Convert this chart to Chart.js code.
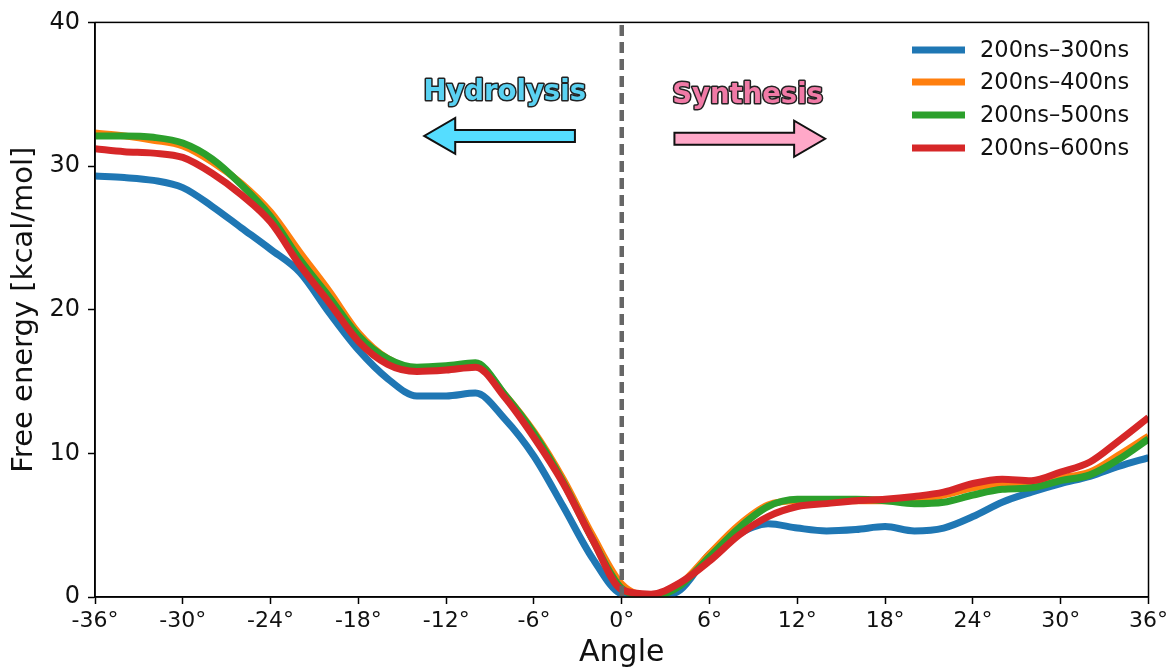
<!DOCTYPE html>
<html>
<head>
<meta charset="utf-8">
<script src="https://cdn.jsdelivr.net/npm/chart.js@4"></script>
<style>
  html, body { margin: 0; padding: 0; background: #fff; }
  #wrap { width: 1172px; height: 667px; }
</style>
</head>
<body>
<div id="wrap"><canvas id="energyChart"></canvas></div>
<script>
// Free energy profile along the rotation angle (degrees)
const angles = [-36, -34, -32, -30, -28, -26, -24, -22, -20, -18, -16, -14, -12, -10, -8, -6, -4, -2,
                0, 2, 4, 6, 8, 10, 12, 14, 16, 18, 20, 22, 24, 26, 28, 30, 32, 34, 36];

const seriesNames = ['200ns\u2013300ns', '200ns\u2013400ns', '200ns\u2013500ns', '200ns\u2013600ns'];
const seriesColors = ['#1f77b4', '#ff7f0e', '#2ca02c', '#d62728'];

const energy300 = [29.3, 29.2, 29.0, 28.5, 27.2, 25.7, 24.2, 22.6, 19.8, 17.2, 15.2, 14.0, 14.0, 14.2, 12.4, 9.8, 6.3, 2.7,
                   0.2, 0.0, 0.5, 3.0, 4.4, 5.1, 4.8, 4.6, 4.7, 4.9, 4.6, 4.8, 5.6, 6.6, 7.3, 7.9, 8.4, 9.1, 9.7];
const energy400 = [32.3, 32.1, 31.8, 31.4, 30.3, 28.8, 26.8, 24.0, 21.3, 18.4, 16.6, 15.9, 16.0, 16.2, 14.1, 11.5, 8.2, 4.3,
                   0.9, 0.1, 0.9, 3.0, 5.0, 6.4, 6.7, 6.7, 6.7, 6.7, 6.8, 7.1, 7.6, 7.9, 8.0, 8.3, 8.7, 9.9, 11.2];
const energy500 = [32.1, 32.1, 32.0, 31.6, 30.5, 28.7, 26.5, 23.5, 20.9, 18.2, 16.6, 16.0, 16.1, 16.3, 14.1, 11.4, 8.0, 4.0,
                   0.6, 0.0, 0.8, 2.8, 4.8, 6.3, 6.8, 6.8, 6.8, 6.7, 6.5, 6.6, 7.1, 7.5, 7.6, 8.1, 8.5, 9.6, 11.0];
const energy600 = [31.2, 31.0, 30.9, 30.6, 29.5, 28.0, 26.1, 23.1, 20.5, 17.8, 16.2, 15.7, 15.8, 16.0, 13.9, 11.1, 7.9, 4.0,
                   0.5, 0.2, 1.0, 2.5, 4.3, 5.6, 6.3, 6.5, 6.7, 6.8, 7.0, 7.3, 7.9, 8.2, 8.1, 8.7, 9.4, 10.9, 12.5];
const seriesValues = [energy300, energy400, energy500, energy600];

// reference line at 0 degrees
const splitAngle = 0;
const yRange = [0, 40];

const FONT = "'DejaVu Sans', sans-serif";

const lineSets = seriesValues.map((vals, i) => ({
  label: seriesNames[i],
  data: vals.map((v, k) => ({ x: angles[k], y: v })),
  borderColor: seriesColors[i],
  backgroundColor: seriesColors[i],
  borderWidth: 7,
  pointRadius: 0,
  cubicInterpolationMode: 'monotone',
  order: seriesValues.length - i
}));

const splitLine = {
  label: 'split',
  data: [{ x: splitAngle, y: yRange[0] }, { x: splitAngle, y: yRange[1] }],
  borderColor: '#666666',
  borderWidth: 4.5,
  borderDash: [11, 6],
  borderCapStyle: 'butt',
  pointRadius: 0,
  order: 0
};

function drawArrow(ctx, x0, x1, y, fill) {
  const dir = Math.sign(x1 - x0);
  const headLen = 31, headHalf = 18, bodyHalf = 6;
  const xb = x1 - dir * headLen;
  ctx.beginPath();
  ctx.moveTo(x0, y - bodyHalf);
  ctx.lineTo(xb, y - bodyHalf);
  ctx.lineTo(xb, y - headHalf);
  ctx.lineTo(x1, y);
  ctx.lineTo(xb, y + headHalf);
  ctx.lineTo(xb, y + bodyHalf);
  ctx.lineTo(x0, y + bodyHalf);
  ctx.closePath();
  ctx.fillStyle = fill;
  ctx.fill();
  ctx.lineWidth = 2;
  ctx.strokeStyle = '#111';
  ctx.lineJoin = 'miter';
  ctx.stroke();
}

function outlinedText(ctx, text, x, y, fill) {
  ctx.font = "bold 27.5px " + FONT;
  ctx.textAlign = 'center';
  ctx.textBaseline = 'middle';
  ctx.lineJoin = 'round';
  ctx.lineWidth = 3;
  ctx.strokeStyle = '#222';
  ctx.strokeText(text, x, y);
  ctx.fillStyle = fill;
  ctx.fillText(text, x, y);
}

const decorations = {
  id: 'decorations',
  afterDatasetsDraw(chart) {
    const { ctx, chartArea: a, scales: { x, y } } = chart;
    ctx.save();
    // direction labels and arrows
    outlinedText(ctx, 'Hydrolysis', x.getPixelForValue(-8), y.getPixelForValue(35.1), '#5ad2f2');
    outlinedText(ctx, 'Synthesis', x.getPixelForValue(8.6), y.getPixelForValue(34.9), '#f07aa6');
    drawArrow(ctx, x.getPixelForValue(-3.2), x.getPixelForValue(-13.5), y.getPixelForValue(32.1), '#55ddff');
    drawArrow(ctx, x.getPixelForValue(3.6), x.getPixelForValue(13.9), y.getPixelForValue(31.9), '#ffa8c8');

    // frame around the plot area
    ctx.strokeStyle = '#000';
    ctx.lineWidth = 1.5;
    ctx.strokeRect(a.left, a.top, a.right - a.left, a.bottom - a.top);

    // legend, top right inside the axes
    ctx.font = "22.5px " + FONT;
    ctx.textAlign = 'left';
    ctx.textBaseline = 'middle';
    const rowY = [50, 82, 115, 148];
    seriesNames.forEach((name, i) => {
      ctx.strokeStyle = seriesColors[i];
      ctx.lineWidth = 7;
      ctx.lineCap = 'butt';
      ctx.beginPath();
      ctx.moveTo(912, rowY[i]);
      ctx.lineTo(965, rowY[i]);
      ctx.stroke();
      ctx.fillStyle = '#111';
      ctx.fillText(name, 980, rowY[i] + 1);
    });
    ctx.restore();
  }
};

new Chart(document.getElementById('energyChart').getContext('2d'), {
  type: 'line',
  data: { datasets: [...lineSets, splitLine] },
  options: {
    responsive: true,
    maintainAspectRatio: false,
    animation: false,
    layout: { padding: { top: 19, right: 22, left: 0, bottom: 0 } },
    plugins: { legend: { display: false }, tooltip: { enabled: false } },
    scales: {
      x: {
        type: 'linear',
        min: -36,
        max: 36,
        afterFit(scale) { scale.height = 70; },
        ticks: {
          stepSize: 6,
          color: '#111',
          padding: 4,
          maxRotation: 0,
          font: { family: FONT, size: 22 },
          callback: v => v + '\u00b0'
        },
        grid: { drawOnChartArea: false, tickLength: 7, color: '#000', tickWidth: 1.5 },
        border: { color: '#000', width: 1.5 },
        title: {
          display: true,
          text: 'Angle',
          color: '#111',
          font: { family: FONT, size: 30, lineHeight: 1 },
          padding: { top: 0, bottom: -1 }
        }
      },
      y: {
        min: yRange[0],
        max: yRange[1],
        afterFit(scale) { scale.width = 95; },
        ticks: {
          stepSize: 10,
          color: '#111',
          padding: 8,
          font: { family: FONT, size: 24 }
        },
        grid: { drawOnChartArea: false, tickLength: 7, color: '#000', tickWidth: 1.5 },
        border: { color: '#000', width: 1.5 },
        title: {
          display: true,
          text: 'Free energy [kcal/mol]',
          color: '#111',
          font: { family: FONT, size: 29, lineHeight: 1 },
          padding: { top: 10, bottom: 0 }
        }
      }
    }
  },
  plugins: [decorations]
});
</script>
</body>
</html>
